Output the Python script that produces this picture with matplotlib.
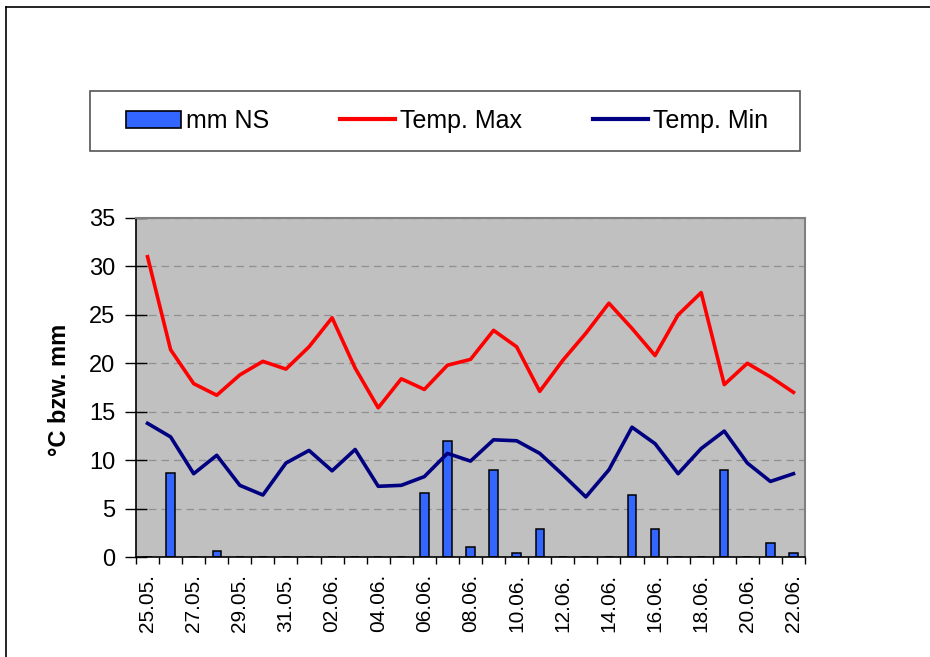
import matplotlib
matplotlib.use("Agg")
import matplotlib.pyplot as plt
from matplotlib.lines import Line2D
from matplotlib.patches import Patch, Rectangle
import numpy as np

plt.rcParams["font.family"] = ["Liberation Sans", "DejaVu Sans"]

# daily values 25.05. - 22.06.
dates = [
    "25.05.", "26.05.", "27.05.", "28.05.", "29.05.", "30.05.", "31.05.",
    "01.06.", "02.06.", "03.06.", "04.06.", "05.06.", "06.06.", "07.06.",
    "08.06.", "09.06.", "10.06.", "11.06.", "12.06.", "13.06.", "14.06.",
    "15.06.", "16.06.", "17.06.", "18.06.", "19.06.", "20.06.", "21.06.",
    "22.06.",
]
rain_mm = [0, 8.7, 0, 0.6, 0, 0, 0, 0, 0, 0, 0, 0, 6.6, 12.0, 1.0,
           9.0, 0.4, 2.9, 0, 0, 0, 6.4, 2.9, 0, 0, 9.0, 0, 1.4, 0.4]
temp_max = [31.0, 21.4, 17.9, 16.7, 18.8, 20.2, 19.4, 21.7, 24.7, 19.5,
            15.4, 18.4, 17.3, 19.8, 20.4, 23.4, 21.7, 17.1, 20.3, 23.1,
            26.2, 23.6, 20.8, 25.0, 27.3, 17.8, 20.0, 18.6, 17.0]
temp_min = [13.8, 12.4, 8.6, 10.5, 7.4, 6.4, 9.7, 11.0, 8.9, 11.1,
            7.3, 7.4, 8.3, 10.7, 9.9, 12.1, 12.0, 10.7, 8.5, 6.2,
            9.0, 13.4, 11.7, 8.6, 11.2, 13.0, 9.7, 7.8, 8.6]

W, H = 930, 657
fig = plt.figure(figsize=(W / 100, H / 100), dpi=100)

# outer chart frame (only left and top edges visible)
fig.add_artist(Line2D([6 / W, 6 / W], [0, 1 - 7 / H], color="black", lw=1.2))
fig.add_artist(Line2D([6 / W, 1], [1 - 7 / H, 1 - 7 / H], color="black", lw=1.2))

ax = fig.add_axes([136 / W, 1 - 557 / H, (805 - 136) / W, (557 - 218) / H])
ax.set_facecolor("#C0C0C0")

x = np.arange(len(dates))
ax.bar(x, rain_mm, width=0.36, color="#3366FF", edgecolor="black", lw=1.1,
       zorder=2, label="mm NS")
ax.plot(x, temp_max, color="#FF0000", lw=2.6, zorder=3, label="Temp. Max")
ax.plot(x, temp_min, color="#000080", lw=2.6, zorder=3, label="Temp. Min")

ax.set_xlim(-0.5, len(dates) - 0.5)
ax.set_ylim(0, 35)
ax.set_yticks(range(0, 36, 5))
ax.yaxis.grid(True, color="#909090", ls=(0, (6, 4)), lw=0.9, zorder=1)
ax.set_axisbelow(True)

ax.set_xticks(np.arange(-0.5, len(dates), 1))
ax.set_xticklabels([])
ax.set_xticks(x[::2], minor=True)
ax.set_xticklabels(dates[::2], minor=True, rotation=90, fontsize=15)
ax.tick_params(axis="x", which="major", direction="out", length=5, width=1)
ax.tick_params(axis="x", which="minor", length=0, pad=12)
ax.tick_params(axis="y", direction="inout", length=16, width=1,
               labelsize=17, pad=7)

for side in ("top", "right"):
    ax.spines[side].set_color("#808080")
    ax.spines[side].set_linewidth(1.5)
for side in ("left", "bottom"):
    ax.spines[side].set_color("black")
    ax.spines[side].set_linewidth(1.2)

fig.text(59 / W, 1 - 390 / H, "°C bzw. mm", rotation=90, ha="center",
         va="center", fontsize=17, fontweight="bold")

# legend box
fig.add_artist(Rectangle((90 / W, 1 - 151 / H), 710 / W, 60 / H,
                         transform=fig.transFigure, facecolor="white",
                         edgecolor="#555555", lw=1.2))
handles = [
    Patch(facecolor="#3366FF", edgecolor="black", lw=1.2),
    Line2D([], [], color="#FF0000", lw=3),
    Line2D([], [], color="#000080", lw=3),
]
leg = fig.legend(handles, ["mm NS", "Temp. Max", "Temp. Min"],
                 loc="center", bbox_to_anchor=(447 / W, 1 - 121 / H),
                 ncol=3, frameon=False, fontsize=18, handlelength=2.2,
                 handletextpad=0.2, columnspacing=2.85, borderpad=0)

fig.savefig("out.png", dpi=100)
